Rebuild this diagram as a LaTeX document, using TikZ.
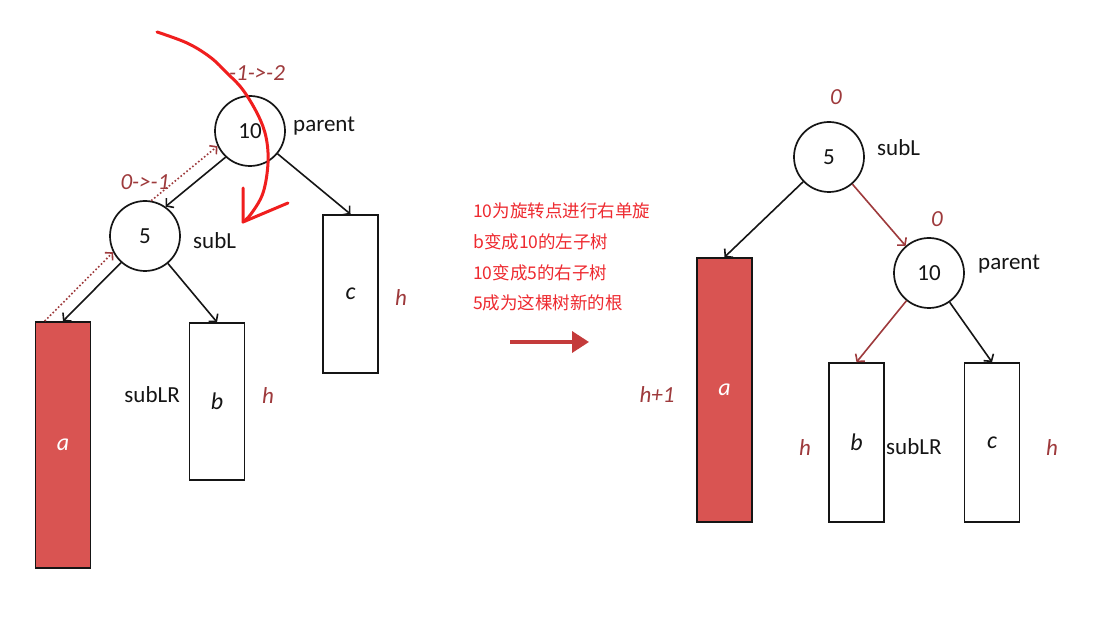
\documentclass[tikz,border=0pt]{standalone}
\usepackage{fontspec}
\setmainfont{Carlito}
\newfontfamily\cjk{Noto Sans CJK SC}
\usetikzlibrary{arrows.meta,positioning,calc}
\definecolor{ink}{HTML}{151515}
\definecolor{heavy}{HTML}{D95452}
\definecolor{bal}{HTML}{9E3A3C}
\definecolor{note}{HTML}{EE2A30}
\definecolor{pen}{HTML}{F01E1E}
\definecolor{move}{HTML}{C43B3B}
\tikzset{
  circ/.style={circle, draw=ink, line width=1.7pt, fill=white, minimum size=70pt,
    inner sep=0pt, font=\fontsize{23}{26}\selectfont, text=ink},
  sub/.style={draw=ink, line width=1.7pt, fill=white, minimum width=55pt,
    inner sep=0pt, font=\fontsize{24}{26}\selectfont\itshape, text=ink},
  heavy/.style={sub, fill=heavy, text=white},
  edge/.style={-{Straight Barb[length=5pt,width=12pt]}, draw=ink, line width=1.6pt},
  redge/.style={edge, draw=bal},
  back/.style={-{Straight Barb[length=5pt,width=11pt]}, draw=bal, line width=1.6pt,
    dash pattern=on 1.6pt off 2.2pt},
  nm/.style={font=\fontsize{23}{26}\selectfont, text=ink, inner sep=0pt},
  bf/.style={font=\fontsize{23}{26}\selectfont\itshape, text=bal, inner sep=0pt},
  notes/.style={font=\cjk\fontsize{17.5}{20}\selectfont, text=note, anchor=west, inner sep=0pt},
}

\begin{document}
\begin{tikzpicture}[x=1pt, y=-1pt]
\fill[white] (0,0) rectangle (1109,628);
\useasboundingbox (0,0) rectangle (1109,628);

% ---------------------------------------------------------------- before
\node[circ] (pa) at (250,131) {10};
\node[circ] (sl) at (145,236) {5};
\node[heavy, minimum height=246pt] (ta) at (63,445)    {a};
\node[sub,   minimum height=157pt] (tb) at (217,401.5) {b};
\node[sub,   minimum height=158pt] (tc) at (350.5,294) {c};

\node[nm, anchor=west] (pan) at (293,126) {parent};
\node[nm, anchor=west] (sln) at (193,241) {subL};
\node[nm, anchor=east] (lrn) at (180,395) {subLR};
\node[bf] (pab) at (257,73)  {-1->-2};
\node[bf] (slb) at (145,182) {0->-1};
\node[bf] (hb)  at (268,396) {h};
\node[bf] (hc)  at (401,298) {h};

\draw[edge] (pa.227) -- (sl.55);
\draw[edge] (pa) -- (tc.north);
\draw[edge] (sl.228) -- (ta.north);
\draw[edge] (sl) -- (tb.north);

% parent pointers walked back up
\draw[back] ([xshift=10pt]ta.north west) -- (sl.207);
\draw[back] (sl.80) -- (pa.205);

% the rotation, drawn by hand
\draw[pen, line width=3pt, line cap=round, line join=round]
  plot[smooth, tension=0.6] coordinates {(157,32) (187,43) (210,57) (227,73) (243,90)
    (258,115) (266,137) (268,163) (263,193) (251,214) (243,222)};
\coordinate (pentip) at (243,222);
\draw[pen, line width=3pt, line cap=round, line join=round]
  (243,188) -- (pentip) -- (288,203);

% ---------------------------------------------------------------- notes
\node[notes] (n1) at (473,211) {10为旋转点进行右单旋};
\node[notes, below=14pt of n1.south west, anchor=north west] (n2) {b变成10的左子树};
\node[notes, below=14pt of n2.south west, anchor=north west] (n3) {10变成5的右子树};
\node[notes, below=14pt of n3.south west, anchor=north west] (n4) {5成为这棵树新的根};

\coordinate (mvl) at (510,342);
\coordinate (mvr) at (589,342);
\draw[-{Triangle[length=17pt,width=21pt]}, draw=move, line width=3.5pt] (mvl) -- (mvr);

% ---------------------------------------------------------------- after
\node[circ] (rsl) at (829,157) {5};
\node[circ] (rpa) at (929,273) {10};
\node[heavy, minimum height=264pt] (ra) at (724.5,390) {a};
\node[sub,   minimum height=159pt] (rb) at (856.5,442.5) {b};
\node[sub,   minimum height=159pt] (rc) at (992,442.5) {c};

\node[nm, anchor=west] (rsln) at (877,148) {subL};
\node[nm, anchor=west] (rpan) at (978,264) {parent};
\node[nm, anchor=west] (rlrn) at (886,447) {subLR};
\node[bf] (rslb) at (836,97)  {0};
\node[bf] (rpab) at (937,219) {0};
\node[bf] (rha)  at (657,395) {h+1};
\node[bf] (rhb)  at (805,448) {h};
\node[bf] (rhc)  at (1052,448) {h};

\draw[edge]  (rsl) -- (ra.north);
\draw[redge] (rsl) -- (rpa);
\draw[redge] (rpa) -- (rb.north);
\draw[edge]  (rpa) -- (rc.north);

\end{tikzpicture}
\end{document}
